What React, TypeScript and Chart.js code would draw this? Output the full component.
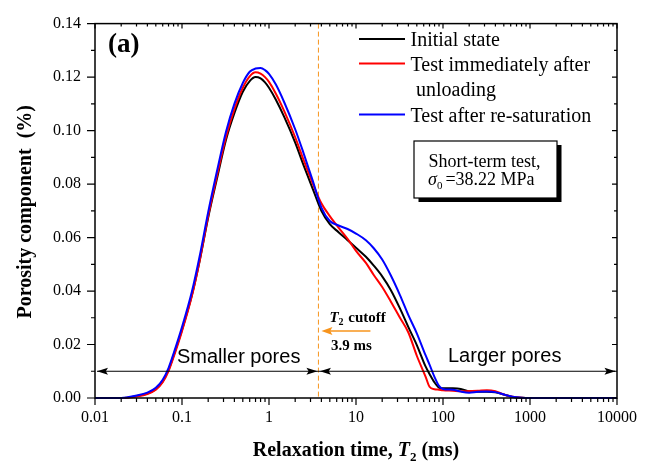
import React, { useEffect, useRef } from 'react';
import { Chart, registerables } from 'chart.js';

Chart.register(...registerables);

// ---------- data ----------
const T2_MS = [
  0.01, 0.02, 0.03, 0.04, 0.05, 0.06, 0.07, 0.08, 0.1, 0.13, 0.16, 0.2, 0.25, 0.32, 0.4, 0.5,
  0.6, 0.7, 0.8, 0.9, 1.0, 1.2, 1.5, 2.0, 2.5, 3.2, 4, 5, 6.3, 8, 10, 13, 16, 20, 25, 32, 40,
  50, 63, 70, 80, 90, 100, 130, 160, 200, 250, 320, 400, 500, 630, 800, 1000, 2000, 5000, 10000,
];

const INITIAL_STATE = [
  0, 0, 0.0007, 0.0017, 0.0033, 0.0062, 0.0105, 0.0158, 0.0255, 0.0385, 0.0515, 0.0675, 0.0815,
  0.0965, 0.1065, 0.1145, 0.1185, 0.12, 0.1195, 0.118, 0.116, 0.1115, 0.105, 0.0955, 0.087,
  0.078, 0.07, 0.065, 0.062, 0.059, 0.0562, 0.0528, 0.0495, 0.0455, 0.0405, 0.0335, 0.0265,
  0.0198, 0.0118, 0.009, 0.0058, 0.0039, 0.0036, 0.0036, 0.0034, 0.0025, 0.0023, 0.0023, 0.0021,
  0.0013, 0.0004, 0.0001, 0, 0, 0, 0,
];

const AFTER_UNLOADING = [
  0, 0, 0.0006, 0.0015, 0.0031, 0.0059, 0.0101, 0.0153, 0.025, 0.0382, 0.0515, 0.068, 0.0825,
  0.0975, 0.108, 0.116, 0.1203, 0.1218, 0.1213, 0.12, 0.1182, 0.1138, 0.1072, 0.0975, 0.089,
  0.08, 0.0728, 0.068, 0.0637, 0.0595, 0.055, 0.0505, 0.046, 0.0415, 0.0362, 0.03, 0.0245,
  0.0158, 0.008, 0.0042, 0.0033, 0.0031, 0.0029, 0.0027, 0.0025, 0.0026, 0.0027, 0.0029, 0.0025,
  0.0013, 0.0005, 0.0001, 0, 0, 0, 0,
];

const AFTER_RESATURATION = [
  0, 0, 0.0009, 0.002, 0.0038, 0.0068, 0.0112, 0.0166, 0.0265, 0.0398, 0.0532, 0.0695, 0.0842,
  0.0995, 0.11, 0.1178, 0.122, 0.1232, 0.1234, 0.1226, 0.1212, 0.1172, 0.1105, 0.1005, 0.0915,
  0.081, 0.0712, 0.0662, 0.0645, 0.0632, 0.0615, 0.059, 0.056, 0.0518, 0.046, 0.0385, 0.031,
  0.0242, 0.016, 0.0125, 0.0078, 0.0045, 0.0034, 0.0031, 0.0024, 0.002, 0.0023, 0.0024, 0.0022,
  0.0013, 0.0005, 0.0001, 0, 0, 0, 0,
];

const SERIES_LABELS = ['Initial state', 'Test immediately after', 'Test after re-saturation'];
const SERIES_COLORS = ['#000000', '#ff0000', '#0000ff'];

const X_DECADES = [0.01, 0.1, 1, 10, 100, 1000, 10000];
const X_TICK_LABELS = ['0.01', '0.1', '1', '10', '100', '1000', '10000'];
const Y_TICKS = [0, 0.02, 0.04, 0.06, 0.08, 0.1, 0.12, 0.14];
const Y_MINOR = [0.01, 0.03, 0.05, 0.07, 0.09, 0.11, 0.13];

const T2_CUTOFF_POS = 3.7; // where the dashed cutoff line sits on the axis
const ARROW_LEVEL = 0.01;

const ORANGE = '#f7941d';
const SERIF = '"Liberation Serif", "Times New Roman", serif';
const SANS = '"Liberation Sans", Arial, sans-serif';

type Part = { text: string; font: string; dy?: number; gap?: number };

function richWidth(ctx: CanvasRenderingContext2D, parts: Part[]) {
  let w = 0;
  for (const p of parts) {
    ctx.font = p.font;
    w += ctx.measureText(p.text).width + (p.gap || 0);
  }
  return w;
}

function drawRich(ctx: CanvasRenderingContext2D, parts: Part[], x: number, y: number) {
  let cx = x;
  for (const p of parts) {
    ctx.font = p.font;
    ctx.fillText(p.text, cx, y + (p.dy || 0));
    cx += ctx.measureText(p.text).width + (p.gap || 0);
  }
}

function arrowHead(ctx: CanvasRenderingContext2D, tipX: number, y: number, dir: number, len: number, half: number) {
  ctx.beginPath();
  ctx.moveTo(tipX, y);
  ctx.lineTo(tipX - dir * len, y - half);
  ctx.lineTo(tipX - dir * len * 0.8, y);
  ctx.lineTo(tipX - dir * len, y + half);
  ctx.closePath();
  ctx.fill();
}

const decorPlugin = {
  id: 'decor',
  beforeDatasetsDraw(chart: any) {
    const { ctx, chartArea: a, scales } = chart;
    const xc = scales.x.getPixelForValue(T2_CUTOFF_POS);
    ctx.save();
    ctx.strokeStyle = ORANGE;
    ctx.lineWidth = 1;
    ctx.setLineDash([5, 3]);
    ctx.beginPath();
    ctx.moveTo(xc, a.top);
    ctx.lineTo(xc, a.bottom);
    ctx.stroke();
    ctx.restore();
  },
  afterDatasetsDraw(chart: any) {
    const { ctx, chartArea: a, scales } = chart;
    const xs = scales.x;
    const ys = scales.y;
    ctx.save();
    ctx.setLineDash([]);

    // frame
    ctx.strokeStyle = '#000';
    ctx.lineWidth = 1.5;
    ctx.strokeRect(a.left, a.top, a.right - a.left, a.bottom - a.top);

    // ticks
    ctx.lineWidth = 1.2;
    ctx.beginPath();
    for (const d of X_DECADES) {
      const px = xs.getPixelForValue(d);
      ctx.moveTo(px, a.bottom); ctx.lineTo(px, a.bottom + 7);
      ctx.moveTo(px, a.top); ctx.lineTo(px, a.top + 5);
      if (d < 10000) {
        for (let k = 2; k <= 9; k++) {
          const pm = xs.getPixelForValue(d * k);
          ctx.moveTo(pm, a.bottom); ctx.lineTo(pm, a.bottom + 4);
          ctx.moveTo(pm, a.top); ctx.lineTo(pm, a.top + 3);
        }
      }
    }
    for (const v of Y_TICKS) {
      const py = ys.getPixelForValue(v);
      ctx.moveTo(a.left, py); ctx.lineTo(a.left - 8, py);
      ctx.moveTo(a.right, py); ctx.lineTo(a.right - 5, py);
    }
    for (const v of Y_MINOR) {
      const py = ys.getPixelForValue(v);
      ctx.moveTo(a.left, py); ctx.lineTo(a.left - 4, py);
      ctx.moveTo(a.right, py); ctx.lineTo(a.right - 3, py);
    }
    ctx.stroke();

    // pore-range arrows
    const xc = xs.getPixelForValue(T2_CUTOFF_POS);
    const ya = ys.getPixelForValue(ARROW_LEVEL);
    ctx.fillStyle = '#000';
    ctx.lineWidth = 1;
    ctx.beginPath();
    ctx.moveTo(a.left + 2, ya); ctx.lineTo(a.right - 2, ya);
    ctx.stroke();
    arrowHead(ctx, a.left + 2, ya, -1, 11, 3.5);
    arrowHead(ctx, xc - 1, ya, 1, 11, 3.5);
    arrowHead(ctx, xc + 1.5, ya, -1, 11, 3.5);
    arrowHead(ctx, a.right - 1.5, ya, 1, 11, 3.5);

    ctx.textBaseline = 'alphabetic';
    ctx.textAlign = 'left';
    ctx.font = `20px ${SANS}`;
    ctx.fillText('Smaller pores', 177, ya - 8);
    ctx.fillText('Larger pores', 448, ya - 9.5);

    // T2 cutoff annotation
    ctx.strokeStyle = ORANGE;
    ctx.fillStyle = ORANGE;
    ctx.lineWidth = 1.5;
    ctx.beginPath();
    ctx.moveTo(xc + 8, 331); ctx.lineTo(xc + 52, 331);
    ctx.stroke();
    arrowHead(ctx, xc + 3, 331, -1, 11, 4);
    ctx.fillStyle = '#000';
    drawRich(ctx, [
      { text: 'T', font: `italic bold 15px ${SERIF}` },
      { text: '2', font: `bold 10px ${SERIF}`, dy: 3, gap: 1 },
      { text: ' cutoff', font: `bold 15px ${SERIF}` },
    ], xc + 11, 321.5);
    ctx.font = `bold 15px ${SERIF}`;
    ctx.fillText('3.9 ms', xc + 12.5, 349.5);

    // panel label
    ctx.font = `bold 27px ${SERIF}`;
    ctx.fillText('(a)', 108, 52);

    // legend
    const lx0 = 359, lx1 = 405, tx = 410.5;
    const rows = [39, 63.5, 114.5];
    for (let i = 0; i < 3; i++) {
      ctx.strokeStyle = SERIES_COLORS[i];
      ctx.lineWidth = 2;
      ctx.beginPath();
      ctx.moveTo(lx0, rows[i]); ctx.lineTo(lx1, rows[i]);
      ctx.stroke();
      ctx.fillStyle = '#000';
      ctx.font = `20px ${SERIF}`;
      ctx.fillText(SERIES_LABELS[i], tx, rows[i] + 7);
      if (i === 1) ctx.fillText('unloading', tx + 5.5, rows[i] + 32);
    }

    // condition box with shadow
    const bx = 414, by = 141, bw = 143, bh = 57;
    ctx.fillStyle = '#000';
    ctx.fillRect(bx + 4.5, by + 4, bw, bh);
    ctx.fillStyle = '#fff';
    ctx.fillRect(bx, by, bw, bh);
    ctx.strokeStyle = '#000';
    ctx.lineWidth = 1.2;
    ctx.strokeRect(bx, by, bw, bh);
    ctx.fillStyle = '#000';
    ctx.font = `18px ${SERIF}`;
    ctx.fillText('Short-term test,', 428.5, 166.5);
    drawRich(ctx, [
      { text: 'σ', font: `italic 18px ${SERIF}` },
      { text: '0', font: `11px ${SERIF}`, dy: 3.5, gap: 3 },
      { text: '=38.22 MPa', font: `18px ${SERIF}` },
    ], 428, 185);

    // axis titles
    ctx.fillStyle = '#000';
    const xt: Part[] = [
      { text: 'Relaxation time, ', font: `bold 20px ${SERIF}` },
      { text: 'T', font: `italic bold 20px ${SERIF}` },
      { text: '2', font: `bold 13px ${SERIF}`, dy: 4.5 },
      { text: ' (ms)', font: `bold 20px ${SERIF}` },
    ];
    const w = richWidth(ctx, xt);
    drawRich(ctx, xt, (a.left + a.right) / 2 - w / 2, 456);

    ctx.translate(30.5, (a.top + a.bottom) / 2 + 1);
    ctx.rotate(-Math.PI / 2);
    ctx.textAlign = 'center';
    ctx.font = `bold 20px ${SERIF}`;
    ctx.fillText('Porosity component  (%)', 0, 0);

    ctx.restore();
  },
};

export default function App() {
  const ref = useRef<HTMLCanvasElement>(null);
  useEffect(() => {
    const series = [INITIAL_STATE, AFTER_UNLOADING, AFTER_RESATURATION];
    const chart = new Chart(ref.current as HTMLCanvasElement, {
      type: 'line',
      data: {
        datasets: series.map((vals, i) => ({
          label: SERIES_LABELS[i],
          data: T2_MS.map((t, j) => ({ x: t, y: vals[j] })),
          borderColor: SERIES_COLORS[i],
          backgroundColor: SERIES_COLORS[i],
          borderWidth: 2,
          pointRadius: 0,
          cubicInterpolationMode: 'monotone',
          fill: false,
          clip: false,
          order: 3 - i,
        })),
      },
      options: {
        responsive: false,
        devicePixelRatio: 1,
        animation: false,
        events: [],
        layout: { padding: { left: 0, right: 31, top: 13, bottom: 0 } },
        plugins: { legend: { display: false }, tooltip: { enabled: false } },
        scales: {
          x: {
            type: 'logarithmic',
            min: 0.01,
            max: 10000,
            grid: { display: false, drawTicks: false },
            border: { display: false },
            afterBuildTicks: (s: any) => { s.ticks = X_DECADES.map((v) => ({ value: v })); },
            afterFit: (s: any) => { s.height = 67; },
            ticks: {
              autoSkip: false,
              maxRotation: 0,
              minRotation: 0,
              padding: 10,
              color: '#000',
              font: { family: SERIF, size: 16 },
              callback: (_v: any, i: number) => X_TICK_LABELS[i],
            },
          },
          y: {
            type: 'linear',
            min: 0,
            max: 0.14,
            grid: { display: false, drawTicks: false },
            border: { display: false },
            afterBuildTicks: (s: any) => { s.ticks = Y_TICKS.map((v) => ({ value: v })); },
            afterFit: (s: any) => { s.width = 95; },
            ticks: {
              padding: 14,
              color: '#000',
              font: { family: SERIF, size: 16 },
              callback: (v: any) => Number(v).toFixed(2),
            },
          },
        },
      },
      plugins: [decorPlugin],
    } as any);
    return () => chart.destroy();
  }, []);
  return (
    <div style={{ position: 'absolute', left: 0, top: 0, width: 648, height: 465, background: '#fff' }}>
      <canvas ref={ref} width={648} height={465} style={{ display: 'block', width: 648, height: 465 }} />
    </div>
  );
}
